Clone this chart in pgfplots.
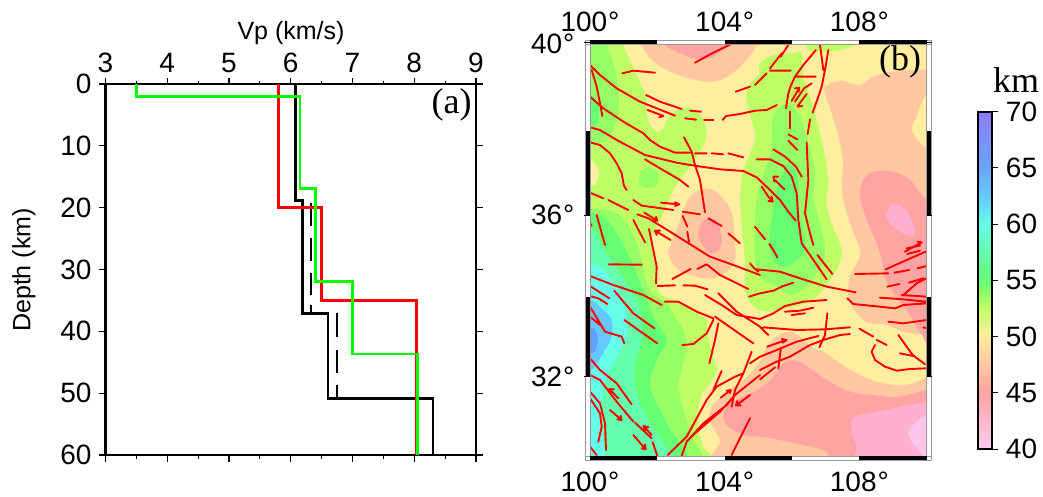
\documentclass[border=0pt]{standalone}
\usepackage{pgfplots}
\pgfplotsset{compat=1.18}
\usepackage{fontspec}
\setmainfont{Liberation Sans}
\newfontfamily\serifb{Liberation Serif}
\definecolor{cream}{HTML}{FFEDA0}
\definecolor{peach}{HTML}{FFC8A0}
\definecolor{salmon}{HTML}{FFA3A3}
\definecolor{pinkb}{HTML}{FFB0D0}
\definecolor{pinkc}{HTML}{FCC6EC}
\definecolor{ygreen}{HTML}{BFFF66}
\definecolor{lgreen}{HTML}{96FF66}
\definecolor{bgreen}{HTML}{66FF73}
\definecolor{mint}{HTML}{66FFB0}
\definecolor{cyanb}{HTML}{66FFE8}
\definecolor{blueb}{HTML}{66C8FF}
\definecolor{blued}{HTML}{66A0FF}
\newcommand\tickfont{\fontsize{28}{28}\selectfont}
\pgfplotsset{
  fault/.style={draw=red,line width=1.9pt,line join=round,line cap=round,no markers},
  band/.style={fill=#1,draw=none,smooth,no markers,tension=0.6},
}
\begin{document}
\begin{tikzpicture}[x=1pt,y=1pt]
\path[use as bounding box] (0,0) rectangle (1043,496);
% ---------- panel (a)
\begin{axis}[scale only axis,
  at={(105.5pt,41pt)},anchor=south west,width=370.5pt,height=371pt,
  xmin=3,xmax=9,ymin=0,ymax=60,y dir=reverse,
  xtick={3,4,5,6,7,8,9},xticklabels={3,4,5,6,7,8,9},
  minor xtick={3.5,4.5,5.5,6.5,7.5,8.5},
  ytick={0,10,20,30,40,50,60},yticklabels={0,10,20,30,40,50,60},
  xticklabel pos=upper,
  xticklabel style={font=\tickfont,yshift=1pt},
  yticklabel style={font=\tickfont,xshift=-4pt},
  tick align=outside,
  major tick length=6.5pt,minor tick length=3.5pt,
  tick style={black,line width=1.1pt},
  xtick pos=both,ytick pos=both,
  axis line style={line width=2.6pt},
  enlargelimits=false,
]
\addplot[black,line width=2.5pt,no markers,line join=miter] coordinates {(6.08,0)(6.08,18.8)(6.19,18.8)(6.19,37.1)(6.6,37.1)(6.6,50.9)(8.3,50.9)(8.3,60)};
\addplot[black,line width=2.5pt,no markers] coordinates {(6.33,19.3)(6.33,22.9)

(6.33,24.9)(6.33,28.6)

(6.33,30.5)(6.33,34.1)

(6.33,35.8)(6.33,37.1)

(6.75,37.1)(6.75,40.9)

(6.75,43)(6.75,46.7)

(6.75,48.7)(6.75,50.9)};
\addplot[red,line width=2.5pt,no markers] coordinates {(5.8,0)(5.8,20)(6.5,20)(6.5,35)(8.04,35)(8.04,60)};
\addplot[green,line width=2.5pt,no markers] coordinates {(3.5,0)(3.5,2.05)(6.15,2.05)(6.15,16.9)(6.4,16.9)(6.4,31.9)(7,31.9)(7,43.7)(8.05,43.7)(8.05,60)};
\end{axis}
\node[font=\fontsize{25}{25}\selectfont] at (291,463) {Vp (km/s)};
\node[font=\fontsize{25}{25}\selectfont,rotate=90] at (24,226) {Depth (km)};
\node[font=\fontsize{36}{36}\selectfont\serifb] at (451.7,391) {(a)};
% ---------- panel (b): map, axis units are projected map coordinates
\begin{axis}[scale only axis,
  at={(590pt,40pt)},anchor=south west,width=336.67pt,height=411.67pt,
  xmin=180,xmax=1190,ymin=133,ymax=1368,y dir=reverse,
  xtick={180,584,988},xticklabels={100\kern1pt°,104\kern1pt°,108\kern1pt°},
  ytick={133,645,1130},yticklabels={40\kern1pt°,36\kern1pt°,32\kern1pt°},
  xticklabel pos=upper,
  tick style={draw=none},major tick length=0pt,
  xticklabel style={font=\tickfont,yshift=9pt},
  yticklabel style={font=\tickfont,xshift=-12pt},
  axis line style={draw=none},
  enlargelimits=false,
  axis background/.style={fill=cream},
]
% warm bands
\addplot[band=peach] coordinates {(335,100)(335,134)(365,180)(420,215)(490,238)(550,245)(600,225)(650,180)(680,134)(680,100)} -- cycle;
\addplot[band=salmon] coordinates {(405,100)(405,134)(440,155)(490,175)(540,175)(570,155)(600,134)(600,100)} -- cycle;
\addplot[band=peach] coordinates {(1250,205)(1190,208)(1090,215)(1030,230)(990,255)(930,242)(885,260)(885,280)(905,340)(930,430)(940,500)(935,540)(940,600)(960,670)(990,750)(985,780)(960,830)(955,890)(970,925)(1000,960)(1020,970)(1070,975)(1120,995)(1190,1005)(1250,1005)} -- cycle;
\addplot[band=cream] coordinates {(1250,270)(1190,285)(1160,350)(1145,385)(1160,415)(1190,445)(1250,470)} -- cycle;
\addplot[band=salmon] coordinates {(1250,1030)(1190,1025)(1180,1010)(1160,980)(1130,930)(1090,880)(1065,830)(1055,780)(1040,730)(1010,660)(990,590)(1000,540)(1030,515)(1090,515)(1140,540)(1190,600)(1250,620)} -- cycle;
\addplot[band=pinkb] coordinates {(1068,640)(1085,615)(1110,615)(1140,650)(1155,700)(1130,705)(1090,680)(1070,655)(1068,640)} -- cycle;
\addplot[band=peach] coordinates {(490,580)(530,565)(570,585)(605,640)(615,730)(615,780)(590,815)(540,835)(480,825)(440,805)(415,760)(425,730)(450,660)(470,605)(490,580)} -- cycle;
\addplot[band=salmon] coordinates {(505,690)(525,658)(555,658)(570,690)(575,730)(560,755)(535,755)(510,720)(505,690)} -- cycle;
\addplot[band=peach] coordinates {(1250,1135)(1190,1135)(1130,1155)(1060,1150)(990,1125)(930,1090)(880,1055)(850,1045)(810,1010)(775,995)(740,1010)(710,1040)(690,1085)(640,1140)(580,1185)(545,1220)(540,1260)(570,1320)(600,1400)(1250,1400)} -- cycle;
\addplot[band=salmon] coordinates {(1250,1170)(1190,1170)(1110,1190)(1030,1185)(960,1175)(890,1140)(840,1105)(800,1082)(760,1090)(730,1130)(690,1165)(630,1195)(590,1220)(580,1250)(595,1280)(640,1305)(690,1310)(750,1320)(820,1335)(890,1355)(930,1400)(1250,1400)} -- cycle;
\addplot[band=pinkb] coordinates {(1250,1195)(1190,1205)(1090,1225)(1020,1240)(975,1250)(963,1275)(967,1300)(980,1340)(995,1400)(1250,1400)} -- cycle;
\addplot[band=pinkc] coordinates {(1250,1220)(1190,1245)(1160,1265)(1135,1295)(1145,1325)(1170,1355)(1190,1375)(1250,1400)} -- cycle;
% cool bands
\addplot[band=ygreen] coordinates {(820,100)(825,134)(840,152)(900,155)(960,142)(1000,100)} -- cycle;
\addplot[band=ygreen] coordinates {(100,100)(280,100)(280,134)(300,180)(325,235)(345,280)(350,320)(355,360)(375,392)(395,390)(410,360)(430,335)(460,325)(495,330)(525,370)(528,420)(500,470)(480,500)(450,540)(425,580)(400,640)(375,690)(365,710)(375,780)(380,830)(390,880)(450,910)(510,945)(530,960)(535,1010)(550,1070)(560,1110)(540,1150)(515,1185)(505,1230)(505,1290)(520,1340)(530,1400)(100,1400)} -- cycle;
\addplot[band=cream] coordinates {(100,480)(180,480)(200,500)(207,520)(200,545)(180,560)(100,560)} -- cycle;
\addplot[band=ygreen] coordinates {(690,225)(690,190)(730,165)(790,160)(815,160)(820,230)(840,290)(855,340)(870,400)(885,470)(895,540)(890,610)(905,670)(930,730)(935,760)(925,800)(900,840)(870,880)(840,905)(770,925)(710,935)(670,920)(645,870)(645,790)(632,640)(632,560)(640,510)(660,460)(675,410)(660,345)(648,290)(660,250)(690,225)} -- cycle;
\addplot[band=lgreen] coordinates {(100,100)(230,100)(230,134)(250,190)(265,270)(265,330)(250,390)(220,425)(180,430)(100,430)} -- cycle;
\addplot[band=bgreen] coordinates {(100,285)(180,285)(205,320)(205,355)(190,375)(100,375)} -- cycle;
\addplot[band=lgreen] coordinates {(325,540)(335,515)(355,502)(380,515)(385,540)(375,560)(340,562)(325,540)} -- cycle;
\addplot[band=lgreen] coordinates {(770,310)(805,340)(830,410)(850,490)(855,540)(850,590)(870,670)(885,740)(880,780)(860,820)(830,860)(785,885)(740,860)(690,830)(675,780)(675,650)(685,570)(715,480)(725,430)(730,345)(770,310)} -- cycle;
\addplot[band=bgreen] coordinates {(775,490)(800,520)(805,580)(810,650)(825,720)(820,755)(790,790)(760,800)(730,780)(718,710)(730,630)(750,540)(775,490)} -- cycle;
\addplot[band=lgreen] coordinates {(100,625)(180,625)(250,635)(290,670)(320,730)(335,780)(345,830)(365,880)(410,910)(440,960)(460,990)(470,1040)(460,1090)(445,1150)(450,1190)(470,1260)(485,1310)(495,1400)(100,1400)} -- cycle;
\addplot[band=bgreen] coordinates {(100,640)(180,640)(225,655)(260,700)(290,755)(320,820)(345,890)(375,960)(410,1020)(380,1080)(360,1150)(380,1210)(415,1280)(455,1400)(100,1400)} -- cycle;
\addplot[band=mint] coordinates {(100,680)(180,680)(215,740)(250,790)(290,850)(320,900)(335,960)(335,1020)(315,1090)(315,1150)(330,1210)(360,1270)(400,1330)(425,1400)(100,1400)} -- cycle;
\addplot[band=cyanb] coordinates {(100,790)(180,790)(220,810)(260,860)(285,920)(290,960)(290,1010)(260,1070)(235,1120)(220,1170)(215,1250)(220,1320)(220,1400)(100,1400)} -- cycle;
\addplot[band=blueb] coordinates {(100,900)(180,900)(220,930)(245,960)(245,1010)(225,1050)(200,1090)(180,1110)(100,1110)} -- cycle;
\addplot[band=blued] coordinates {(100,980)(180,980)(200,1000)(202,1030)(185,1060)(100,1060)} -- cycle;
% faults
\addplot[fault] coordinates {
(180,195)(210,225)(260,265)(330,305)(435,347)

(185,210)(200,260)(210,310)(217,348)

(180,290)(220,325)(280,365)(340,400)(360,420)(390,440)(435,458)(480,458)

(495,460)(530,460)

(545,460)(580,463)

(595,460)(640,472)

(277,220)(310,212)(375,218)

(348,285)(390,305)(455,327)

(480,332)(513,335)

(353,330)(400,348)

(385,342)(400,348)(388,352)

(465,355)(498,359)

(522,360)(550,360)

(578,360)(588,348)(630,342)(675,332)(710,330)(740,315)

(495,188)(550,158)(600,134)

(617,275)(660,260)

(675,255)(690,240)(710,220)

(720,205)(755,160)

(752,170)(775,135)

(720,212)(782,212)

(180,382)(210,390)(260,420)(345,465)(440,488)(500,498)(570,508)(640,513)(680,532)(720,570)(750,600)(775,635)(797,662)

(180,427)(210,435)(240,460)(260,490)(275,520)(282,558)(290,570)

(462,412)(485,455)(495,495)(510,540)(525,637)

(345,478)(390,505)(450,540)(475,560)

(870,134)(880,210)

(895,150)(885,210)(875,260)(865,290)(848,338)

(858,150)(820,195)(795,230)(782,258)

(795,230)(857,230)

(768,325)(775,280)(782,258)

(785,303)(808,263)

(795,265)(808,263)(806,275)

(795,305)(822,265)(845,250)

(803,318)(830,282)

(803,320)(817,318)

(780,335)(780,385)

(840,358)(833,402)

(775,403)(802,418)

(775,422)(802,450)

(830,428)(835,540)(825,640)(840,700)(850,735)

(730,448)(765,470)(798,500)(815,530)

(680,478)(720,478)(760,498)(785,530)(800,580)(805,660)(815,730)(840,765)(890,838)

(862,765)(907,822)

(680,808)(750,815)(810,835)(890,860)(977,877)

(975,822)(1075,820)

(1067,808)(1130,780)(1187,755)

(1093,818)(1138,810)

(1162,805)(1190,798)

(1137,848)(1180,835)

(1072,860)(1108,852)

(1120,885)(1160,850)(1190,835)

(1050,893)(1120,898)(1190,905)

(952,895)(970,912)(1030,918)(1095,925)(1120,915)(1190,910)

(1115,885)(1190,890)

(1125,755)(1160,735)(1175,727)

(1162,725)(1175,727)(1165,735)

(1130,745)(1170,737)

(1132,762)(1170,752)

(657,890)(690,880)(730,872)(760,858)(790,848)

(675,680)(705,718)

(718,732)(730,750)(742,772)

(525,885)(575,915)(620,945)(690,957)(730,940)(765,918)(820,905)(890,900)

(765,935)(810,932)(850,923)

(785,945)(825,940)

(892,940)(890,960)(885,1005)(868,1042)

(695,560)(715,590)(728,605)

(715,603)(728,605)(725,590)

(735,540)(763,568)

(730,530)(745,530)

(730,530)(733,545)

(180,578)(220,595)

(235,600)(295,630)

(310,600)(335,617)(380,623)(430,630)

(393,608)(448,613)

(435,607)(448,613)(435,618)

(322,643)(355,655)(420,695)(540,770)(610,795)(690,825)

(343,638)(382,662)

(370,660)(382,662)(378,650)

(375,692)(422,720)

(390,692)(375,692)(380,705)

(310,660)(345,727)

(357,687)(380,800)(378,850)

(200,645)(225,735)

(180,668)(185,678)

(237,793)(335,794)

(458,635)(510,643)

(458,648)(472,680)

(472,695)(477,725)

(535,655)(575,678)

(595,700)(630,730)

(427,837)(482,807)

(502,807)(530,793)(570,825)(655,867)

(383,858)(435,856)

(460,856)(495,857)(533,868)

(180,828)(250,855)(340,885)(395,915)

(180,858)(238,895)

(180,888)(205,895)(232,912)

(253,872)(280,905)(310,940)(373,985)

(283,960)(325,990)(382,1030)

(405,905)(445,905)(500,935)(550,955)

(555,950)(670,1030)

(565,880)(620,935)(690,980)(715,1005)

(700,982)(800,990)(885,988)(960,982)

(660,790)(673,805)(685,815)

(180,920)(225,995)(275,1010)(283,1030)

(180,950)(210,975)

(457,1035)(490,1032)(530,1000)(550,960)

(565,970)(555,1020)(538,1090)

(665,1055)(640,1120)(615,1170)(605,1220)

(575,1113)(550,1170)

(660,1090)(690,1070)(740,1050)(800,1025)(865,1008)

(712,1040)(768,1020)

(755,1017)(770,1020)(758,1028)

(752,1048)(745,1105)

(690,1110)(740,1085)(780,1070)(840,1035)(880,1020)(930,1005)(960,1002)

(690,1138)(735,1102)

(988,986)(1030,1010)

(1040,1020)(1070,1035)

(1105,1005)(1130,1040)(1148,1065)(1185,1093)

(1110,1060)(1150,1068)

(1035,1035)(1025,1055)(1035,1080)(1065,1100)(1100,1112)(1140,1107)(1190,1105)

(1075,965)(1120,970)(1190,960)

(1180,982)(1190,985)

(413,1365)(470,1310)(530,1200)(560,1160)(615,1130)(640,1120)

(455,1368)(470,1325)(520,1270)(590,1215)(615,1185)(690,1125)

(470,1325)(495,1300)(570,1235)(615,1185)

(660,1185)(620,1215)

(622,1203)(618,1216)(632,1216)

(572,1193)(602,1170)

(590,1172)(602,1170)(600,1180)

(660,1255)(605,1365)

(180,1075)(210,1110)(260,1150)(305,1213)

(180,1125)(210,1140)(260,1205)(310,1265)

(238,1167)(265,1195)

(252,1168)(238,1167)(242,1178)

(240,1230)(275,1260)

(262,1258)(275,1260)(272,1248)

(180,1175)(210,1210)(225,1270)(228,1350)

(180,1195)(210,1240)(215,1280)(205,1325)

(315,1268)(365,1315)

(340,1278)(365,1305)

(355,1282)(340,1278)(345,1292)

(310,1305)(347,1348)

(335,1345)(347,1348)(345,1333)

(368,1327)(382,1368)

(180,1340)(200,1365)
};
\end{axis}
% overlay: frame and lower labels of the map
\begin{axis}[scale only axis,
  at={(590pt,40pt)},anchor=south west,width=336.67pt,height=411.67pt,
  xmin=180,xmax=1190,ymin=133,ymax=1368,y dir=reverse,
  xtick={180,584,988},xticklabels={100\kern1pt°,104\kern1pt°,108\kern1pt°},
  ytick=\empty,
  tick style={draw=none},major tick length=0pt,
  xticklabel style={font=\tickfont,yshift=-12.5pt},
  axis line style={draw=none},
  enlargelimits=false,clip=false,
]
\addplot[gray!80,line width=0.9pt,no markers] coordinates {(167,120)(1204,120)(1204,1380)(167,1380)(167,120)

(180,120)(180,1380)

(1190,120)(1190,1380)

(167,133)(1204,133)

(167,1368)(1204,1368)};
\addplot[black,line width=4.4pt,no markers] coordinates {(180,126.5)(382,126.5)

(584,126.5)(786,126.5)

(988,126.5)(1190,126.5)

(180,1374)(382,1374)

(584,1374)(786,1374)

(988,1374)(1190,1374)

(173.5,393)(173.5,645)

(173.5,892)(173.5,1130)

(1197,393)(1197,645)

(1197,892)(1197,1130)};
\addplot[black,line width=0.8pt,no markers] coordinates {(163,128)(180,128)

(1190,128)(1207,128)

(163,645)(180,645)

(1190,645)(1207,645)

(163,1130)(180,1130)

(1190,1130)(1207,1130)};
\end{axis}
\node[font=\fontsize{36}{36}\selectfont\serifb] at (900,434) {(b)};
% ---------- colour bar
\begin{axis}[scale only axis,
  at={(978.3pt,47pt)},anchor=south west,width=13.4pt,height=337.3pt,
  xmin=0,xmax=1,ymin=40,ymax=70,
  xtick=\empty,ytick={40,45,50,55,60,65,70},yticklabels={40,45,50,55,60,65,70},
  ytick pos=right,yticklabel pos=right,
  tick align=outside,major tick length=6.7pt,
  tick style={black,line width=0.9pt},
  axis line style={line width=2pt},
  enlargelimits=false,axis on top,
  yticklabel style={font=\tickfont,xshift=4pt},
  point meta min=40,point meta max=70,
  colormap={cb}{rgb255(0)=(255,204,242) rgb255(10)=(255,163,163) rgb255(15)=(255,200,160) rgb255(20)=(255,237,160) rgb255(25)=(191,255,102) rgb255(30)=(102,255,115) rgb255(35)=(102,255,176) rgb255(40)=(102,255,232) rgb255(45)=(102,200,255) rgb255(50)=(107,166,255) rgb255(60)=(140,122,255)},
]
\addplot[mesh,point meta=y,line width=13.4pt,line cap=butt,no markers] coordinates {
(.5,40)(.5,40.5)(.5,41)(.5,41.5)(.5,42)(.5,42.5)(.5,43)(.5,43.5)(.5,44)(.5,44.5)
(.5,45)(.5,45.5)(.5,46)(.5,46.5)(.5,47)(.5,47.5)(.5,48)(.5,48.5)(.5,49)(.5,49.5)
(.5,50)(.5,50.5)(.5,51)(.5,51.5)(.5,52)(.5,52.5)(.5,53)(.5,53.5)(.5,54)(.5,54.5)
(.5,55)(.5,55.5)(.5,56)(.5,56.5)(.5,57)(.5,57.5)(.5,58)(.5,58.5)(.5,59)(.5,59.5)
(.5,60)(.5,60.5)(.5,61)(.5,61.5)(.5,62)(.5,62.5)(.5,63)(.5,63.5)(.5,64)(.5,64.5)
(.5,65)(.5,65.5)(.5,66)(.5,66.5)(.5,67)(.5,67.5)(.5,68)(.5,68.5)(.5,69)(.5,69.5)(.5,70)};
\end{axis}
\node[font=\fontsize{36}{36}\selectfont\serifb] at (1016,416) {km};
\end{tikzpicture}
\end{document}
